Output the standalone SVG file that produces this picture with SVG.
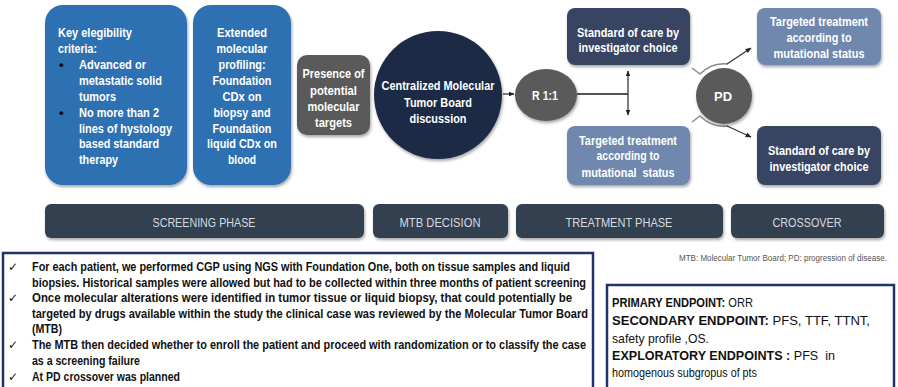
<svg xmlns="http://www.w3.org/2000/svg" width="898" height="387" viewBox="0 0 898 387">
  <defs>
    <filter id="shadow" x="-10%" y="-10%" width="125%" height="130%">
      <feDropShadow dx="1" dy="2" stdDeviation="1.6" flood-color="#000" flood-opacity="0.35"/>
    </filter>
    <marker id="arrow" viewBox="0 0 10 10" refX="9" refY="5" markerWidth="6" markerHeight="6" orient="auto-start-reverse" markerUnits="userSpaceOnUse">
      <path d="M0,1 L10,5 L0,9 z" fill="#222"/>
    </marker>
    <style>
      .t { font-family: "Liberation Sans Narrow", "Liberation Sans", Arial, sans-serif; }
      .nb { font-weight: bold; font-size: 13.5px; fill: #ffffff; }
      .c { text-anchor: middle; }
      .blue { fill: #2e71b2; filter: url(#shadow); }
      .grey { fill: #5a5a5a; filter: url(#shadow); }
      .navy { fill: #1f2b45; filter: url(#shadow); }
      .slate { fill: #374562; filter: url(#shadow); }
      .light { fill: #7088ad; filter: url(#shadow); }
      .bar { fill: #333f50; filter: url(#shadow); }
      .bartxt { font-size: 13px; fill: #d6dae0; text-anchor: middle; }
      .conn { fill: none; stroke: #3a3a3a; stroke-width: 1.3; }
      .arc { fill: none; stroke: #8a8a8a; stroke-width: 1.4; }
      .note { font-weight: bold; font-size: 12.5px; fill: #111; }
      .chk { font-family: "DejaVu Sans", sans-serif; font-size: 12px; fill: #111; }
      .ep { font-size: 13.5px; fill: #111; }
      .frame { fill: #ffffff; stroke: #1f3468; stroke-width: 2.5; }
    </style>
  </defs>

  <rect width="898" height="387" fill="#ffffff"/>

  <!-- connectors -->
  <g id="connectors">
    <line class="conn" x1="503" y1="94" x2="514" y2="94" marker-end="url(#arrow)"/>
    <line x1="577" y1="94" x2="628" y2="94" stroke="#555" stroke-width="1.8"/>
    <line class="conn" x1="628" y1="94" x2="628" y2="71" marker-end="url(#arrow)"/>
    <line class="conn" x1="628" y1="94" x2="628" y2="115" marker-end="url(#arrow)"/>
    <path class="arc" d="M692,68 L700,74 Q712,62 728,64"/>
    <path class="arc" d="M692,122 L700,116 Q712,128 728,126"/>
    <line class="conn" x1="727" y1="64" x2="751" y2="48" marker-end="url(#arrow)"/>
    <line class="conn" x1="727" y1="126" x2="751" y2="137" marker-end="url(#arrow)"/>
  </g>

  <!-- eligibility criteria -->
  <g id="eligibility">
    <rect class="blue" x="45" y="5" width="142" height="180" rx="18"/>
    <g class="t nb">
      <text x="58" y="37" textLength="74" lengthAdjust="spacingAndGlyphs">Key elegibility</text>
      <text x="58" y="53" textLength="39" lengthAdjust="spacingAndGlyphs">criteria:</text>
      <text x="59" y="69" fill="#111">•</text>
      <text x="79" y="69" textLength="67" lengthAdjust="spacingAndGlyphs">Advanced or</text>
      <text x="79" y="85" textLength="83" lengthAdjust="spacingAndGlyphs">metastatic solid</text>
      <text x="79" y="101" textLength="37" lengthAdjust="spacingAndGlyphs">tumors</text>
      <text x="59" y="117" fill="#111">•</text>
      <text x="79" y="117" textLength="80" lengthAdjust="spacingAndGlyphs">No more than 2</text>
      <text x="79" y="133" textLength="93" lengthAdjust="spacingAndGlyphs">lines of hystology</text>
      <text x="79" y="148" textLength="80" lengthAdjust="spacingAndGlyphs">based standard</text>
      <text x="79" y="164" textLength="39" lengthAdjust="spacingAndGlyphs">therapy</text>
    </g>
  </g>

  <!-- molecular profiling -->
  <g id="profiling">
    <rect class="blue" x="193" y="5" width="98" height="180" rx="18"/>
    <g class="t nb c">
      <text x="242" y="37" textLength="50" lengthAdjust="spacingAndGlyphs">Extended</text>
      <text x="242" y="53" textLength="51" lengthAdjust="spacingAndGlyphs">molecular</text>
      <text x="242" y="69" textLength="47" lengthAdjust="spacingAndGlyphs">profiling:</text>
      <text x="242" y="85" textLength="59" lengthAdjust="spacingAndGlyphs">Foundation</text>
      <text x="242" y="101" textLength="39" lengthAdjust="spacingAndGlyphs">CDx on</text>
      <text x="242" y="117" textLength="57" lengthAdjust="spacingAndGlyphs">biopsy and</text>
      <text x="242" y="133" textLength="59" lengthAdjust="spacingAndGlyphs">Foundation</text>
      <text x="242" y="148" textLength="70" lengthAdjust="spacingAndGlyphs">liquid CDx on</text>
      <text x="242" y="164" textLength="28" lengthAdjust="spacingAndGlyphs">blood</text>
    </g>
  </g>

  <!-- molecular targets -->
  <g id="targets">
    <rect class="grey" x="297" y="55" width="73" height="80" rx="10"/>
    <g class="t nb c">
      <text x="333.5" y="78" textLength="62" lengthAdjust="spacingAndGlyphs">Presence of</text>
      <text x="333.5" y="95" textLength="47" lengthAdjust="spacingAndGlyphs">potential</text>
      <text x="333.5" y="111" textLength="52" lengthAdjust="spacingAndGlyphs">molecular</text>
      <text x="333.5" y="127" textLength="37" lengthAdjust="spacingAndGlyphs">targets</text>
    </g>
  </g>

  <!-- tumor board -->
  <g id="mtb">
    <circle class="navy" cx="438" cy="95" r="64"/>
    <g class="t nb c">
      <text x="438" y="90" textLength="113" lengthAdjust="spacingAndGlyphs">Centralized Molecular</text>
      <text x="438" y="107" textLength="68" lengthAdjust="spacingAndGlyphs">Tumor Board</text>
      <text x="438" y="123" textLength="57" lengthAdjust="spacingAndGlyphs">discussion</text>
    </g>
  </g>

  <!-- randomization -->
  <g id="randomization">
    <ellipse class="grey" cx="546" cy="95" rx="31" ry="26"/>
    <text class="t nb c" x="545" y="100" textLength="26" lengthAdjust="spacingAndGlyphs">R 1:1</text>
  </g>

  <g id="arm-soc">
    <rect class="slate" x="567" y="8" width="123" height="57" rx="8"/>
    <g class="t nb c">
      <text x="628" y="37" textLength="102" lengthAdjust="spacingAndGlyphs">Standard of care by</text>
      <text x="628" y="52" textLength="99" lengthAdjust="spacingAndGlyphs">investigator choice</text>
    </g>
  </g>

  <g id="arm-targeted">
    <rect class="light" x="567" y="126" width="123" height="59" rx="8"/>
    <g class="t nb c">
      <text x="628" y="145" textLength="98" lengthAdjust="spacingAndGlyphs">Targeted treatment</text>
      <text x="628" y="160" textLength="63" lengthAdjust="spacingAndGlyphs">according to</text>
      <text x="628" y="177" textLength="93" lengthAdjust="spacingAndGlyphs" xml:space="preserve">mutational  status</text>
    </g>
  </g>

  <!-- progression -->
  <g id="pd">
    <circle class="grey" cx="724" cy="96" r="28"/>
    <text class="t nb c" x="723" y="101" textLength="18" lengthAdjust="spacingAndGlyphs">PD</text>
  </g>

  <g id="cross-targeted">
    <rect class="light" x="757" y="8" width="124" height="57" rx="8"/>
    <g class="t nb c">
      <text x="819" y="26" textLength="98" lengthAdjust="spacingAndGlyphs">Targeted treatment</text>
      <text x="819" y="42" textLength="65" lengthAdjust="spacingAndGlyphs">according to</text>
      <text x="819" y="58" textLength="91" lengthAdjust="spacingAndGlyphs">mutational status</text>
    </g>
  </g>

  <g id="cross-soc">
    <rect class="slate" x="757" y="126" width="124" height="59" rx="8"/>
    <g class="t nb c">
      <text x="819" y="155" textLength="102" lengthAdjust="spacingAndGlyphs">Standard of care by</text>
      <text x="819" y="171" textLength="99" lengthAdjust="spacingAndGlyphs">investigator choice</text>
    </g>
  </g>

  <!-- phase bars -->
  <g id="phases">
    <rect class="bar" x="45" y="204" width="319" height="34" rx="6"/>
    <rect class="bar" x="373" y="204" width="135" height="34" rx="6"/>
    <rect class="bar" x="516" y="204" width="207" height="34" rx="6"/>
    <rect class="bar" x="731" y="204" width="153" height="34" rx="6"/>
    <g class="t bartxt">
      <text x="204" y="226.5" textLength="103" lengthAdjust="spacingAndGlyphs">SCREENING PHASE</text>
      <text x="440" y="226.5" textLength="81" lengthAdjust="spacingAndGlyphs">MTB DECISION</text>
      <text x="619" y="226.5" textLength="107" lengthAdjust="spacingAndGlyphs">TREATMENT PHASE</text>
      <text x="807" y="226.5" textLength="69" lengthAdjust="spacingAndGlyphs">CROSSOVER</text>
    </g>
  </g>

  <text class="t" x="887" y="261" font-size="8.5" fill="#555" text-anchor="end" textLength="208" lengthAdjust="spacingAndGlyphs">MTB: Molecular Tumor Board; PD: progression of disease.</text>

  <!-- study procedures -->
  <g id="procedures">
    <rect class="frame" x="3" y="253" width="590" height="145"/>
    <text class="chk" x="8" y="271">✓</text>
    <text class="chk" x="8" y="302">✓</text>
    <text class="chk" x="8" y="349">✓</text>
    <text class="chk" x="8" y="381">✓</text>
    <g class="t note">
      <text x="32" y="271" textLength="538" lengthAdjust="spacingAndGlyphs">For each patient, we performed CGP using NGS with Foundation One, both on tissue samples and liquid</text>
      <text x="32" y="287" textLength="554" lengthAdjust="spacingAndGlyphs">biopsies. Historical samples were allowed but had to be collected within three months of patient screening</text>
      <text x="32" y="302" textLength="540" lengthAdjust="spacingAndGlyphs">Once molecular alterations were identified in tumor tissue or liquid biopsy, that could potentially be</text>
      <text x="32" y="318" textLength="556" lengthAdjust="spacingAndGlyphs">targeted by drugs available within the study the clinical case was reviewed by the Molecular Tumor Board</text>
      <text x="32" y="333" textLength="30" lengthAdjust="spacingAndGlyphs">(MTB)</text>
      <text x="32" y="349" textLength="554" lengthAdjust="spacingAndGlyphs">The MTB then decided whether to enroll the patient and proceed with randomization or to classify the case</text>
      <text x="32" y="365" textLength="108" lengthAdjust="spacingAndGlyphs">as a screening failure</text>
      <text x="32" y="381" textLength="148" lengthAdjust="spacingAndGlyphs">At PD crossover was planned</text>
    </g>
  </g>

  <!-- endpoints -->
  <g id="endpoints">
    <rect class="frame" x="607" y="285" width="287" height="115"/>
    <g class="t ep">
      <text x="612" y="307" textLength="141" lengthAdjust="spacingAndGlyphs"><tspan font-weight="bold">PRIMARY ENDPOINT:</tspan> ORR</text>
      <text x="612" y="325" textLength="258" lengthAdjust="spacingAndGlyphs"><tspan font-weight="bold">SECONDARY ENDPOINT:</tspan> PFS, TTF, TTNT,</text>
      <text x="612" y="343" textLength="97" lengthAdjust="spacingAndGlyphs">safety profile ,OS.</text>
      <text x="612" y="360" textLength="223" lengthAdjust="spacingAndGlyphs" xml:space="preserve"><tspan font-weight="bold">EXPLORATORY ENDPOINTS :</tspan> PFS  in</text>
      <text x="612" y="377" textLength="145" lengthAdjust="spacingAndGlyphs">homogenous subgropus of pts</text>
    </g>
  </g>
</svg>
